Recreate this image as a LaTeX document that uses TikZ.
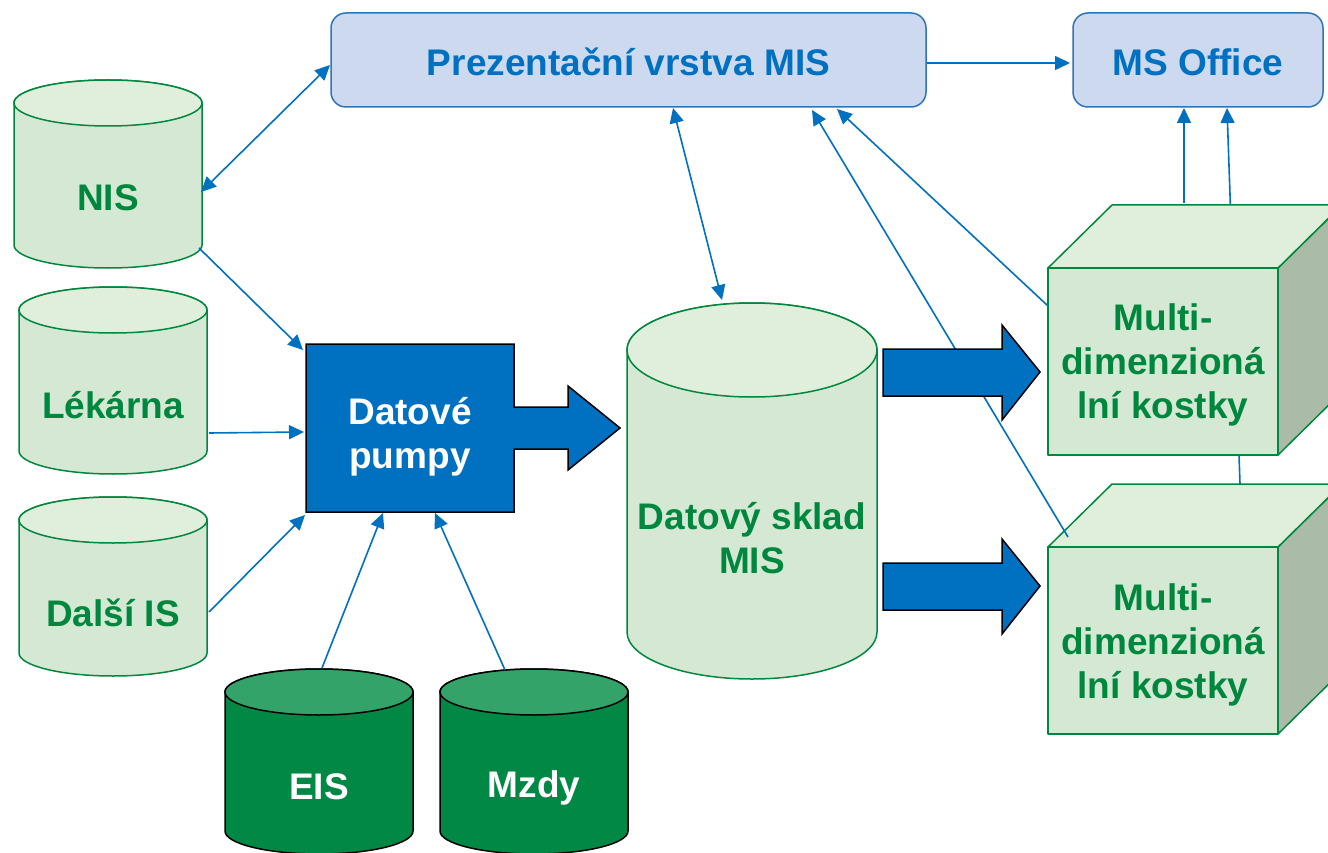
\documentclass[tikz,border=0pt]{standalone}
\usepackage{fontspec}
\setmainfont{Liberation Sans}
\usetikzlibrary{arrows.meta}
\definecolor{gtext}{RGB}{0,135,62}
\definecolor{gfill}{RGB}{213,232,212}
\definecolor{gtop}{RGB}{224,238,220}
\definecolor{gside}{RGB}{170,188,168}
\definecolor{dgreen}{RGB}{0,136,68}
\definecolor{dgtop}{RGB}{51,163,106}
\definecolor{mblue}{RGB}{0,112,192}
\definecolor{bfill}{RGB}{204,217,238}
\definecolor{bdraw}{RGB}{46,117,182}
\tikzset{
  conn/.style={draw=mblue, line width=1.6pt, -{Triangle[length=15pt,width=14pt]}},
  biconn/.style={draw=mblue, line width=1.6pt, {Triangle[length=15pt,width=14pt]}-{Triangle[length=15pt,width=14pt]}},
  lbl/.style={font=\bfseries\fontsize{37}{44}\selectfont, align=center, inner sep=0pt},
  rbox/.style={draw=bdraw, fill=bfill, line width=1.5pt, rounded corners=15pt},
  blockarrow/.style={draw=black, fill=mblue, line width=1.5pt, line join=miter},
  cubeline/.style={draw=gtext, line width=1.5pt, line join=round},
}
\newcommand\mycyl[8]{% x1 x2 yt yb ry fill topfill draw
  \pgfmathsetmacro\cxc{(#1+#2)/2}\pgfmathsetmacro\crx{(#2-#1)/2}
  \path[draw=#8, fill=#6, line width=1.5pt] (#1,#3) -- (#1,#4)
    arc[start angle=180, end angle=360, x radius=\crx pt, y radius=#5pt] -- (#2,#3)
    arc[start angle=0, end angle=180, x radius=\crx pt, y radius=#5pt] -- cycle;
  \path[draw=#8, fill=#7, line width=1.5pt] (\cxc,#3) ellipse[x radius=\crx pt, y radius=#5pt];
}
\newcommand\mycube[2]{% x-left y-top of front face
  \path[cubeline, fill=gside] (#1+230,#2) -- (#1+294,#2-63) -- (#1+294,#2+124) -- (#1+230,#2+187) -- cycle;
  \path[cubeline, fill=gtop] (#1,#2) -- (#1+64,#2-63) -- (#1+294,#2-63) -- (#1+230,#2) -- cycle;
  \path[cubeline, fill=gfill] (#1,#2) rectangle (#1+230,#2+187);
}
\begin{document}
\begin{tikzpicture}[x=1pt,y=-1pt]
\useasboundingbox (0,0) rectangle (1328,853);
\clip (0,0) rectangle (1328,853);
\fill[white] (0,0) rectangle (1328,853);

% connector end points
\coordinate (presNIS) at (330,65);
\coordinate (nisPres) at (201,192);
\coordinate (nisOut) at (199,248);
\coordinate (pumpNIS) at (303,350);
\coordinate (lekOut) at (209,433);
\coordinate (pumpLek) at (304,432);
\coordinate (dalOut) at (209,612);
\coordinate (pumpDal) at (305,515);
\coordinate (eisOut) at (322,668);
\coordinate (pumpEIS) at (383,513);
\coordinate (mzdOut) at (505,670);
\coordinate (pumpMzd) at (435,513);
\coordinate (presSklad) at (673,108);
\coordinate (skladPres) at (722,300);
\coordinate (cubeAOut) at (1048,306);
\coordinate (presCubeA) at (837,109);
\coordinate (cubeBOut) at (1068,537);
\coordinate (presCubeB) at (812,110);
\coordinate (presOut) at (927,63);
\coordinate (msPres) at (1070,63);
\coordinate (cubeAms) at (1184,203);
\coordinate (msCubeA) at (1184,108);
\coordinate (cubeBms) at (1240,484);
\coordinate (msCubeB) at (1227,108);

% line hidden behind upper cube
\draw[conn] (cubeBms) -- (msCubeB);

% cubes
\mycube{1048}{547}
\mycube{1048}{268}
\node[lbl, text=gtext] (cubeA) at (1163,365) {Multi-\\dimenzioná\\lní kostky};
\node[lbl, text=gtext] (cubeB) at (1163,645) {Multi-\\dimenzioná\\lní kostky};

% boxes
\path[rbox] (331,13) rectangle (926,107);
\node[lbl, text=mblue] (pres) at (628.5,62) {Prezentační vrstva MIS};
\path[rbox] (1073,13) rectangle (1323,107);
\node[lbl, text=mblue] (ms) at (1198,62) {MS Office};

% cylinders
\mycyl{14}{202}{103}{245}{23}{gfill}{gtop}{gtext}
\node[lbl, text=gtext] (nis) at (108,198) {NIS};
\mycyl{19}{207}{310}{451}{23}{gfill}{gtop}{gtext}
\node[lbl, text=gtext] (lek) at (113,405) {Lékárna};
\mycyl{19}{207}{520}{653}{23}{gfill}{gtop}{gtext}
\node[lbl, text=gtext] (dal) at (113,613) {Další IS};
\mycyl{627}{877}{350}{632}{47}{gfill}{gtop}{gtext}
\node[lbl, text=gtext] (sklad) at (752,538) {Datový sklad\\MIS};
\mycyl{225}{413}{692}{831}{23}{dgreen}{dgtop}{black}
\node[lbl, text=white] (eis) at (319,787) {EIS};
\mycyl{440}{628}{692}{831}{23}{dgreen}{dgtop}{black}
\node[lbl, text=white] (mzdy) at (534,788) {Mzdy};

% connectors
\draw[biconn] (presNIS) -- (nisPres);
\draw[conn] (nisOut) -- (pumpNIS);
\draw[conn] (lekOut) -- (pumpLek);
\draw[conn] (dalOut) -- (pumpDal);
\draw[conn] (eisOut) -- (pumpEIS);
\draw[conn] (mzdOut) -- (pumpMzd);
\draw[biconn] (presSklad) -- (skladPres);
\draw[conn] (cubeAOut) -- (presCubeA);
\draw[conn] (cubeBOut) -- (presCubeB);
\draw[conn] (presOut) -- (msPres);
\draw[conn] (cubeAms) -- (msCubeA);

% pump block with arrow
\path[blockarrow] (306,344) -- (514,344) -- (514,407) -- (568,407) -- (568,386) -- (620,428)
  -- (568,470) -- (568,449) -- (514,449) -- (514,512) -- (306,512) -- cycle;
\node[lbl, text=white] (pump) at (410,437) {Datové\\pumpy};

% block arrows to cubes
\path[blockarrow] (883,349) -- (1002,349) -- (1002,325) -- (1040,372) -- (1002,420) -- (1002,396) -- (883,396) -- cycle;
\path[blockarrow] (883,563) -- (1002,563) -- (1002,539) -- (1040,586) -- (1002,634) -- (1002,610) -- (883,610) -- cycle;
\end{tikzpicture}
\end{document}
